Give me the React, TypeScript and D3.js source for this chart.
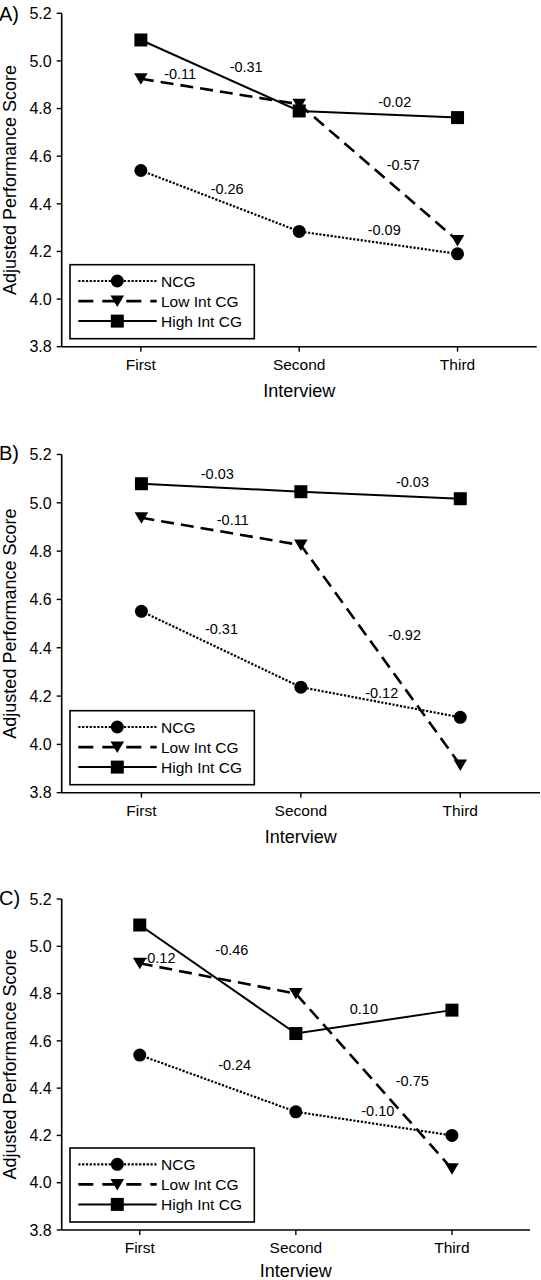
import React from "react";
import * as d3 from "d3";

// ---------- data ----------
const interviews = ["First", "Second", "Third"];
const yTicks = [3.8, 4.0, 4.2, 4.4, 4.6, 4.8, 5.0, 5.2];
const groupNames = ["NCG", "Low Int CG", "High Int CG"];
const panelLabels = ["A)", "B)", "C)"];

// Panel A
const ncgA = [4.54, 4.284, 4.19];
const lowA = [4.925, 4.818, 4.246];
const highA = [5.088, 4.79, 4.762];
// Panel B
const ncgB = [4.551, 4.237, 4.112];
const lowB = [4.938, 4.825, 3.915];
const highB = [5.079, 5.046, 5.017];
// Panel C
const ncgC = [4.54, 4.3, 4.2];
const lowC = [4.928, 4.8, 4.059];
const highC = [5.09, 4.631, 4.73];

// slope annotations: [text, interview position (index), score]
const annotA: [string, number, number][] = [
  ["-0.11", 0.248, 4.944],
  ["-0.31", 0.665, 4.976],
  ["-0.02", 1.603, 4.829],
  ["-0.57", 1.657, 4.563],
  ["-0.26", 0.545, 4.463],
  ["-0.09", 1.537, 4.293],
];
const annotB: [string, number, number][] = [
  ["-0.03", 0.476, 5.122],
  ["-0.03", 1.7, 5.086],
  ["-0.11", 0.573, 4.931],
  ["-0.31", 0.502, 4.477],
  ["-0.92", 1.65, 4.454],
  ["-0.12", 1.507, 4.212],
];
const annotC: [string, number, number][] = [
  ["-0.12", 0.123, 4.952],
  ["-0.46", 0.59, 4.984],
  ["0.10", 1.436, 4.737],
  ["-0.24", 0.608, 4.497],
  ["-0.75", 1.746, 4.431],
  ["-0.10", 1.525, 4.303],
];

const panelsData = [
  { series: [ncgA, lowA, highA], annots: annotA },
  { series: [ncgB, lowB, highB], annots: annotB },
  { series: [ncgC, lowC, highC], annots: annotC },
];

// ---------- layout / style ----------
const W = 541;
const H = 1280;
const FONT = "'Liberation Sans', Arial, Helvetica, sans-serif";
const layouts = [
  { top: 13.3, bottom: 346.7, left: 61.7, right: 536.7, labelY: 20.7 },
  { top: 454.5, bottom: 792.7, left: 61.7, right: 540, labelY: 459.5 },
  { top: 899, bottom: 1230, left: 61.7, right: 530, labelY: 905 },
];
const lineStyles = [
  { dash: "2.2,1.6", width: 2.2 },
  { dash: "13,7", width: 2.6 },
  { dash: "none", width: 2 },
];

function Marker({ kind, x, y }: { kind: number; x: number; y: number }) {
  if (kind === 0) return <circle cx={x} cy={y} r={6.5} fill="#000" />;
  if (kind === 1)
    return (
      <path
        d={`M${x - 6.8},${y - 5.5} L${x + 6.8},${y - 5.5} L${x},${y + 6} Z`}
        fill="#000"
      />
    );
  return <rect x={x - 6.5} y={y - 6.5} width={13} height={13} fill="#000" />;
}

function Panel({ idx }: { idx: number }) {
  const L = layouts[idx];
  const P = panelsData[idx];
  const x = d3.scaleLinear().domain([-0.5, 2.5]).range([L.left, L.right]);
  const y = d3.scaleLinear().domain([3.8, 5.2]).range([L.bottom, L.top]);
  const line = d3
    .line<number>()
    .x((_, i) => x(i))
    .y((d) => y(d));

  const boxLeft = 70;
  const boxW = 184.3;
  const boxH = 74;
  const boxTop = L.bottom - 8 - boxH;
  const rowY = [boxTop + 16.3, boxTop + 36.4, boxTop + 56.4];

  return (
    <g>
      {/* panel label */}
      <text x={-1} y={L.labelY} fontSize={20} fontFamily={FONT} fill="#000">
        {panelLabels[idx]}
      </text>
      {/* y axis */}
      <line x1={L.left} x2={L.left} y1={L.top} y2={L.bottom} stroke="#000" strokeWidth={1.6} />
      {yTicks.map((t) => (
        <g key={t}>
          <line x1={L.left - 5} x2={L.left} y1={y(t)} y2={y(t)} stroke="#000" strokeWidth={1.4} />
          <text
            x={L.left - 10}
            y={y(t)}
            dy="0.36em"
            textAnchor="end"
            fontSize={16}
            fontFamily={FONT}
            fill="#000"
          >
            {t.toFixed(1)}
          </text>
        </g>
      ))}
      {/* x axis */}
      <line x1={L.left} x2={L.right} y1={L.bottom} y2={L.bottom} stroke="#000" strokeWidth={1.6} />
      {interviews.map((name, i) => (
        <g key={name}>
          <line x1={x(i)} x2={x(i)} y1={L.bottom} y2={L.bottom + 5} stroke="#000" strokeWidth={1.4} />
          <text
            x={x(i)}
            y={L.bottom + 23}
            textAnchor="middle"
            fontSize={15.5}
            fontFamily={FONT}
            fill="#000"
          >
            {name}
          </text>
        </g>
      ))}
      <text
        x={(L.left + L.right) / 2}
        y={Math.min(L.bottom + 50, H - 3)}
        textAnchor="middle"
        fontSize={18}
        fontFamily={FONT}
        fill="#000"
      >
        Interview
      </text>
      <text
        transform={`translate(16,${(L.top + L.bottom) / 2}) rotate(-90)`}
        textAnchor="middle"
        fontSize={18}
        fontFamily={FONT}
        fill="#000"
      >
        Adjusted Performance Score
      </text>
      {/* annotations */}
      {P.annots.map(([t, u, v], i) => (
        <text
          key={i}
          x={x(u)}
          y={y(v)}
          dy="0.36em"
          textAnchor="middle"
          fontSize={14.5}
          fontFamily={FONT}
          fill="#000"
        >
          {t}
        </text>
      ))}
      {/* lines */}
      {P.series.map((s, k) => (
        <path
          key={k}
          d={line(s) || ""}
          fill="none"
          stroke="#000"
          strokeWidth={lineStyles[k].width}
          strokeDasharray={lineStyles[k].dash}
        />
      ))}
      {/* markers */}
      {P.series.map((s, k) =>
        s.map((v, i) => <Marker key={`${k}-${i}`} kind={k} x={x(i)} y={y(v)} />)
      )}
      {/* legend */}
      <rect
        x={boxLeft}
        y={boxTop}
        width={boxW}
        height={boxH}
        fill="#fff"
        stroke="#000"
        strokeWidth={1.6}
      />
      {groupNames.map((g, k) => (
        <g key={g}>
          <line
            x1={78.3}
            x2={156.7}
            y1={rowY[k]}
            y2={rowY[k]}
            stroke="#000"
            strokeWidth={lineStyles[k].width}
            strokeDasharray={k === 1 ? "15,9" : lineStyles[k].dash}
          />
          <Marker kind={k} x={117.3} y={rowY[k]} />
          <text
            x={161}
            y={rowY[k]}
            dy="0.36em"
            fontSize={15.5}
            fontFamily={FONT}
            fill="#000"
          >
            {g}
          </text>
        </g>
      ))}
    </g>
  );
}

export default function App() {
  return (
    <svg
      width={W}
      height={H}
      viewBox={`0 0 ${W} ${H}`}
      style={{ position: "absolute", left: 0, top: 0, background: "#fff" }}
    >
      <rect x={0} y={0} width={W} height={H} fill="#fff" />
      {[0, 1, 2].map((i) => (
        <Panel key={i} idx={i} />
      ))}
    </svg>
  );
}
